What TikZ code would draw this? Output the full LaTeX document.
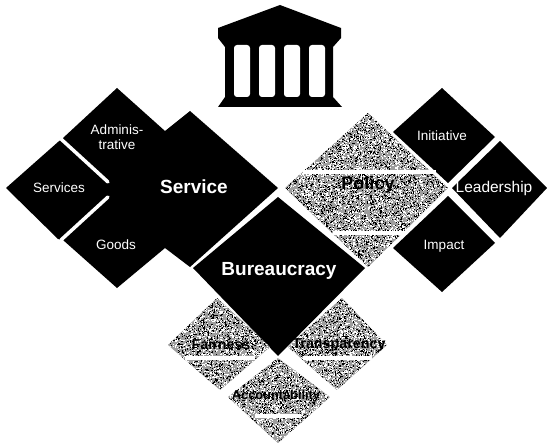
\documentclass[tikz,border=0pt]{standalone}
\usepackage{fontspec}
\setmainfont{Liberation Sans}
\newcommand{\grainfill}[5]{% polygon, x0, x1, y0, y1
  \begin{scope}
    \clip #1 -- cycle;
    \fill[grainbase] (#2,#4) rectangle (#3,#5);
    \pgfmathsetmacro{\grainN}{int((#3-#2)/10*(#5-#4)/10*22)}
    \foreach \grainC/\grainD in {black/1,white/2}{%
      \pgfsetfillcolor{\grainC}%
      \foreach \grainI in {1,...,\grainN}{%
        \pgfmathsetmacro{\grainX}{#2+rnd*(#3-#2)}%
        \pgfmathsetmacro{\grainY}{#4+rnd*(#5-#4)}%
        \pgfpathrectangle{\pgfqpoint{\grainX pt}{-\grainY pt}}{\pgfqpoint{1.1pt}{1.1pt}}%
        \pgfusepath{fill}%
      }%
    }
  \end{scope}
}
\tikzset{
  x=1pt,y=-1pt,
  grainbase/.style={fill=black!38},
  solid shape/.style={fill=black},
  gapline/.style={draw=white,line width=3.5pt,line cap=round},
  bigwhite/.style={text=white,font=\fontsize{19}{21}\selectfont\bfseries,align=center,inner sep=0pt},
  smallwhite/.style={text=white,font=\fontsize{13.5}{15}\selectfont,align=center,inner sep=0pt},
  greybig/.style={text=black,font=\fontsize{18}{20}\selectfont\bfseries,align=center,inner sep=0pt},
  greysmall/.style={text=black,font=\fontsize{14.3}{16}\selectfont\bfseries,align=center,inner sep=0pt},
}
\begin{document}
\begin{tikzpicture}
\useasboundingbox (0,0) rectangle (547,444);
\fill[white] (0,0) rectangle (547,444);
\pgfmathsetseed{7}
% temple
\fill[solid shape] (280,5) -- (341,28) -- (341,38) -- (333,47) -- (333,97) -- (342,107) -- (218,107) -- (225,97) -- (225,47) -- (218,38) -- (218,28) -- cycle;
\foreach \wx in {234,259,284,309}{
  \fill[white,rounded corners=3pt] (\wx,45) rectangle ++(16,52);
}
% service group
\fill[solid shape] (117,88) -- (165,131) -- (190,111) -- (278,188) -- (190,267) -- (165,248) -- (117,288) -- (63,240) -- (58,239) -- (6,188) -- (58,142) -- (63,138) -- cycle;
\draw[gapline] (61,139) -- (108,182);
\draw[gapline] (61,240) -- (108,197);
% bureaucracy
\fill[solid shape] (278,197) -- (365,268) -- (278,356) -- (193,268) -- cycle;
% policy satellites
\fill[solid shape] (442,88) -- (495,137) -- (448,183) -- (393,132) -- cycle;
\fill[solid shape] (500,141) -- (547,188) -- (500,238) -- (452,188) -- cycle;
\fill[solid shape] (448,196) -- (495,243) -- (442,292) -- (393,248) -- cycle;
% grainy diamonds
\grainfill{(368,113) -- (448,188) -- (368,267) -- (285,188)}{285}{448}{113}{267}
\draw[gapline,line cap=butt] (303,172) -- (436,172);
\draw[gapline,line cap=butt] (333,233) -- (405,233);
\grainfill{(217,298) -- (168,345) -- (220,390) -- (270,347) -- (252,330)}{168}{270}{298}{390}
\grainfill{(342,298) -- (387,345) -- (337,390) -- (288,347) -- (306,330)}{288}{387}{298}{390}
\draw[gapline,line cap=butt] (185,358) -- (255,358);
\draw[gapline,line cap=butt] (303,358) -- (372,358);
\grainfill{(278,358) -- (330,397) -- (278,443) -- (228,397)}{228}{330}{358}{443}
\draw[gapline,line cap=butt] (255,416) -- (301,416);
% labels
\node[bigwhite] (service) at (194,187) {Service};
\node[bigwhite] (bureaucracy) at (279,271) {Bureaucracy};
\node[smallwhite] (admin) at (117,137) {Adminis-\\trative};
\node[smallwhite] (services) at (59,188) {Services};
\node[smallwhite] (goods) at (116,245) {Goods};
\node[smallwhite] (initiative) at (442,136) {Initiative};
\node[smallwhite,font=\fontsize{15.5}{17}\selectfont] (leadership) at (494,188) {Leadership};
\node[smallwhite] (impact) at (444,246) {Impact};
\node[greybig] (policy) at (368,185) {Policy};
\node[greysmall] (fairness) at (221,344) {Fairness};
\node[greysmall] (transparency) at (339,345) {Transparency};
\node[greysmall,font=\fontsize{12.8}{14}\selectfont\bfseries] (accountability) at (276,396) {Accountability};
\end{tikzpicture}
\end{document}
